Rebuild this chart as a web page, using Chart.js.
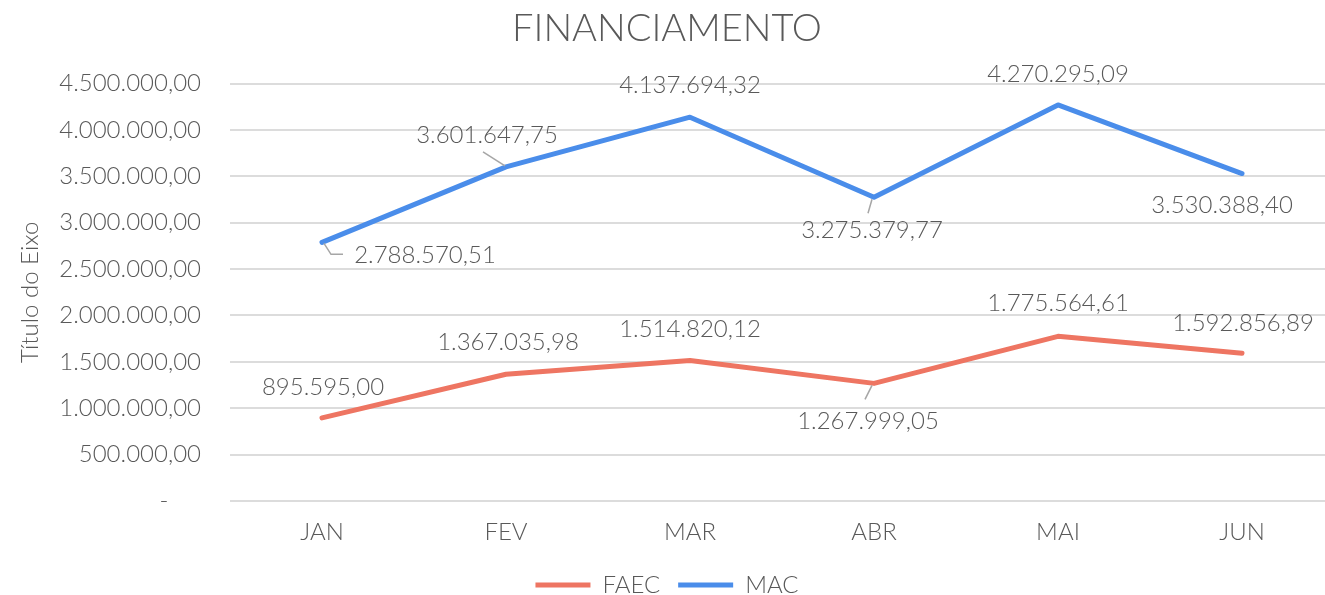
<!DOCTYPE html>
<html>
<head>
<meta charset="utf-8">
<script src="https://cdn.jsdelivr.net/npm/chart.js"></script>
<style>
  html, body { margin:0; padding:0; background:#fff; overflow:hidden; }
  #wrap { width:1340px; height:607px; position:relative; }
</style>
</head>
<body>
<div id="wrap"><canvas id="mycanvas"></canvas></div>
<script>
// dados do gráfico
var meses = ['JAN', 'FEV', 'MAR', 'ABR', 'MAI', 'JUN'];
var faec = [895595.00, 1367035.98, 1514820.12, 1267999.05, 1775564.61, 1592856.89];
var mac = [2788570.51, 3601647.75, 4137694.32, 3275379.77, 4270295.09, 3530388.40];
var yMax = 4500000;
var yStep = 500000;

// posição dos rótulos em relação ao ponto (dx, dy) e linhas guia
var labelOffsets = [
  [[1, -31], [2, -32], [0, -31], [-6, 38], [0, -33], [1, -30]],
  [[103, 13], [-19, -32], [0, -32], [-2, 33], [0, -31], [-20, 32]]
];
var leaders = [
  [null, null, null, [[-2, 2], [-9, 16]], null, null],
  [[[2, 1], [9, 12], [21, 12]], [[-1, -1], [-23, -15]], null, [[-2, 2], [-6, 16]], null, null]
];

function fmtBR(v) {
  if (v === 0) return '-     ';
  var p = v.toFixed(2).split('.');
  return p[0].replace(/\B(?=(\d{3})+(?!\d))/g, '.') + ',' + p[1];
}

var FONT = 'Lato, "Open Sans", sans-serif';
var TXT = '#595959';

var valueLabels = {
  id: 'valueLabels',
  afterDatasetsDraw: function(chart) {
    var ctx = chart.ctx;
    ctx.save();
    chart.data.datasets.forEach(function(ds, i) {
      var meta = chart.getDatasetMeta(i);
      meta.data.forEach(function(pt, j) {
        var lead = leaders[i][j];
        if (lead) {
          ctx.strokeStyle = '#A6A6A6';
          ctx.lineWidth = 1.5;
          ctx.beginPath();
          ctx.moveTo(pt.x + lead[0][0], pt.y + lead[0][1]);
          for (var k = 1; k < lead.length; k++) ctx.lineTo(pt.x + lead[k][0], pt.y + lead[k][1]);
          ctx.stroke();
        }
        var off = labelOffsets[i][j];
        ctx.fillStyle = TXT;
        ctx.font = '300 24px ' + FONT;
        ctx.textAlign = 'center';
        ctx.textBaseline = 'middle';
        ctx.fillText(fmtBR(ds.data[j]), pt.x + off[0], pt.y + off[1]);
      });
    });
    ctx.restore();
  }
};

var chartdata = {
  labels: meses,
  datasets: [
    {
      label: 'FAEC',
      data: faec,
      borderColor: '#EE7562',
      backgroundColor: '#EE7562',
      borderWidth: 5,
      borderCapStyle: 'round',
      borderJoinStyle: 'round',
      pointRadius: 0,
      tension: 0
    },
    {
      label: 'MAC',
      data: mac,
      borderColor: '#4A8DEA',
      backgroundColor: '#4A8DEA',
      borderWidth: 5,
      borderCapStyle: 'round',
      borderJoinStyle: 'round',
      pointRadius: 0,
      tension: 0
    }
  ]
};

var ctx = document.getElementById('mycanvas');
var lineGraph = new Chart(ctx, {
  type: 'line',
  data: chartdata,
  plugins: [valueLabels],
  options: {
    responsive: true,
    maintainAspectRatio: false,
    animation: false,
    layout: { padding: { left: 0, right: 6, top: 0, bottom: 0 } },
    plugins: {
      title: {
        display: true,
        text: 'FINANCIAMENTO',
        color: TXT,
        font: { family: FONT, size: 38, weight: '300', lineHeight: 1.2 },
        padding: { top: 6, bottom: 32 }
      },
      legend: {
        position: 'bottom',
        labels: {
          color: TXT,
          font: { family: FONT, size: 24, weight: '300' },
          usePointStyle: true,
          pointStyleWidth: 55,
          pointStyle: 'line',
          padding: 18
        }
      },
      tooltip: { enabled: false }
    },
    scales: {
      x: {
        offset: true,
        grid: { display: false, drawTicks: false },
        border: { display: false },
        ticks: { color: TXT, font: { family: FONT, size: 24, weight: '300' }, padding: 17 },
        afterFit: function(s) { s.height = 54; }
      },
      y: {
        min: 0,
        max: yMax,
        ticks: {
          stepSize: yStep,
          color: TXT,
          font: { family: FONT, size: 24, weight: '300' },
          padding: 29,
          callback: function(v) { return fmtBR(v); }
        },
        grid: { color: '#DCDCDC', lineWidth: 2, drawTicks: false },
        border: { display: false },
        title: {
          display: true,
          text: 'Título do Eixo',
          color: TXT,
          font: { family: FONT, size: 24, weight: '300' },
          padding: { top: 16, bottom: 0 }
        },
        afterFit: function(s) { s.width = 230; }
      }
    }
  }
});
</script>
</body>
</html>
